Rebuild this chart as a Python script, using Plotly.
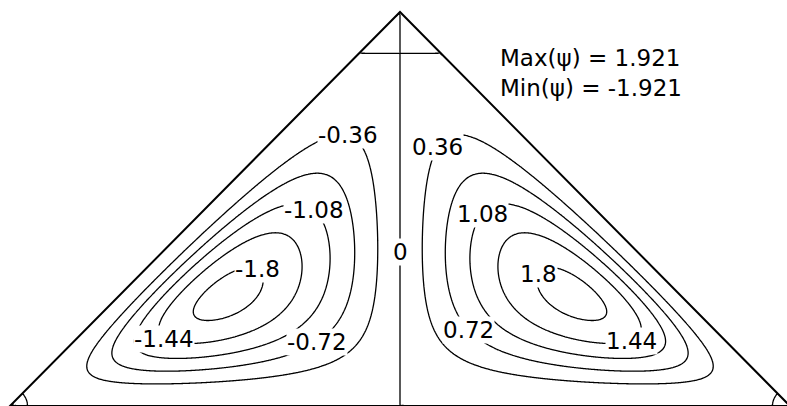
import numpy as np
import plotly.graph_objects as go

# Stream-function contour levels and extrema
levels = [-1.8, -1.44, -1.08, -0.72, -0.36, 0.0, 0.36, 0.72, 1.08, 1.44, 1.8]
psi_max = 1.921
psi_min = -1.921
label_values = [-0.36, -1.08, -1.8, -1.44, -0.72, 0.0, 0.36, 1.08, 1.8, 0.72, 1.44]

# Flow model parameters (cavity: base y=0, x in [-1, 1], apex at (0, 1))
bl_base = 0.13        # boundary-layer thickness on the base
bl_wall = 0.10        # boundary-layer thickness on the inclined walls
decay_h = 0.85        # vertical decay scale of the cells
apex_eddy_y = 0.895   # height of the separating streamline under the apex
corner_eddy_r = 0.045 # radius of the small eddies in the base corners

# Label anchors (data coordinates), snapped onto their contour below
label_anchor = {
    -0.36: (-0.149, 0.678), -1.08: (-0.215, 0.503), -1.8: (-0.362, 0.353),
    -1.44: (-0.603, 0.170), -0.72: (-0.226, 0.188), 0.0: (-0.005, 0.391),
    0.36: (0.077, 0.670), 1.08: (0.174, 0.520), 1.8: (0.338, 0.343),
    0.72: (0.182, 0.200), 1.44: (0.592, 0.165),
}

nx, ny = 760, 400
x = np.linspace(-1.06, 1.06, nx)
y = np.linspace(-0.02, 1.04, ny)
X, Y = np.meshgrid(x, y)
A = np.abs(X)
S = 1.0 - A - Y


def layer(t):
    return 1.0 - (1.0 + t) * np.exp(-t)


F = np.sign(X) * A * layer(Y / bl_base) * layer(S / bl_wall)
F *= np.exp(-(Y / decay_h) ** 2)
F *= np.tanh((apex_eddy_y - Y) / 0.03)
R = np.hypot(A - 1.0, Y)
F *= np.tanh((R - corner_eddy_r) / 0.02)
inside = (Y >= 0) & (S >= 0)
F = F / F[inside].max() * psi_max
F = np.clip(F, -50, 50)


def snap(level, ax, ay):
    D = F - level
    best = None
    for j in range(ny):
        if abs(y[j] - ay) > 0.05:
            continue
        row = D[j]
        idx = np.where(np.sign(row[:-1]) != np.sign(row[1:]))[0]
        for i in idx:
            if not (inside[j, i] and inside[j, i + 1]):
                continue
            t = row[i] / (row[i] - row[i + 1])
            xc = x[i] + t * (x[i + 1] - x[i])
            d = np.hypot(xc - ax, y[j] - ay)
            if best is None or d < best[0]:
                best = (d, xc, y[j])
    if best is None:
        return ax, ay
    return best[1], best[2]


def py2y(py):
    return (406 - py) / 394


def px2x(px):
    return (px - 400) / 390


fig = go.Figure()
fig.add_trace(go.Contour(
    x=x, y=y, z=np.round(F, 5),
    autocontour=False,
    contours=dict(start=levels[0], end=levels[-1], size=levels[1] - levels[0],
                  coloring="lines", showlabels=False),
    colorscale=[[0, "black"], [1, "black"]],
    line=dict(color="black", width=1.3),
    showscale=False, hoverinfo="skip",
))

font = "DejaVu Sans, Liberation Sans, Arial, sans-serif"
for v in label_values:
    ax, ay = label_anchor[v]
    lx, ly = snap(v, ax, ay)
    txt = "0" if v == 0 else ("%g" % v)
    fig.add_annotation(x=lx, y=ly, text=txt, showarrow=False,
                       font=dict(family=font, size=23, color="black"),
                       bgcolor="white", borderpad=0)

# White out everything outside the cavity, then draw the walls
fig.add_shape(type="path",
              path="M -1.1,-0.1 L 0,1 L 1.1,-0.1 L 1.6,-0.1 L 1.6,1.6 L -1.6,1.6 L -1.6,-0.1 Z",
              fillcolor="white", line=dict(width=0), layer="above")
fig.add_shape(type="path", path="M -1,0 L 0,1 L 1,0 Z",
              line=dict(color="black", width=2), layer="above")

for i, txt in enumerate(["Max(\u03c8) = %.3f" % psi_max, "Min(\u03c8) = %.3f" % psi_min]):
    fig.add_annotation(x=px2x(498), y=py2y(58 + 30 * i), xanchor="left", yanchor="middle",
                       text=txt, showarrow=False,
                       font=dict(family=font, size=23, color="black"))

fig.update_layout(
    width=787, height=406, margin=dict(l=0, r=0, t=0, b=0),
    paper_bgcolor="white", plot_bgcolor="white", showlegend=False,
    xaxis=dict(range=[-400 / 390, 387 / 390], visible=False),
    yaxis=dict(range=[0, 406 / 394], visible=False),
)
fig.write_html("out.html")
